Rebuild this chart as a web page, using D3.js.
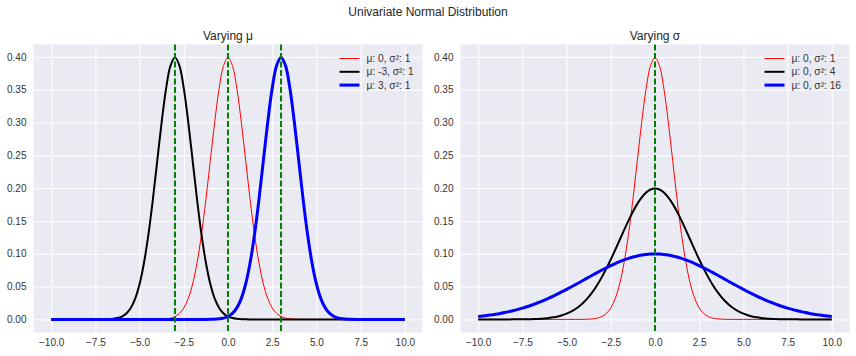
<!DOCTYPE html>
<html><head><meta charset="utf-8">
<script src="https://cdn.jsdelivr.net/npm/d3@7"></script>
<style>body{margin:0;background:#fff}svg{display:block;font-family:"Liberation Sans",Arial,sans-serif}</style>
</head><body><svg id="c" width="856" height="356"></svg>
<script>
const xs = [-10,-9.75,-9.5,-9.25,-9,-8.75,-8.5,-8.25,-8,-7.75,-7.5,-7.25,-7,-6.75,-6.5,-6.25,-6,-5.75,-5.5,-5.25,-5,-4.75,-4.5,-4.25,-4,-3.75,-3.5,-3.25,-3,-2.75,-2.5,-2.25,-2,-1.75,-1.5,-1.25,-1,-0.75,-0.5,-0.25,0,0.25,0.5,0.75,1,1.25,1.5,1.75,2,2.25,2.5,2.75,3,3.25,3.5,3.75,4,4.25,4.5,4.75,5,5.25,5.5,5.75,6,6.25,6.5,6.75,7,7.25,7.5,7.75,8,8.25,8.5,8.75,9,9.25,9.5,9.75,10];
const mu0var1 = [0,0,0,0,0,0,0,0,0,0,0,0,0,0,0,0,0,0,0,0,0,0,0,0,0.0001,0.0004,0.0009,0.0020,0.0044,0.0091,0.0175,0.0317,0.0540,0.0863,0.1295,0.1826,0.2420,0.3011,0.3521,0.3867,0.3989,0.3867,0.3521,0.3011,0.2420,0.1826,0.1295,0.0863,0.0540,0.0317,0.0175,0.0091,0.0044,0.0020,0.0009,0.0004,0.0001,0,0,0,0,0,0,0,0,0,0,0,0,0,0,0,0,0,0,0,0,0,0,0,0];
const muM3var1 = [0,0,0,0,0,0,0,0,0,0,0,0,0.0001,0.0004,0.0009,0.0020,0.0044,0.0091,0.0175,0.0317,0.0540,0.0863,0.1295,0.1826,0.2420,0.3011,0.3521,0.3867,0.3989,0.3867,0.3521,0.3011,0.2420,0.1826,0.1295,0.0863,0.0540,0.0317,0.0175,0.0091,0.0044,0.0020,0.0009,0.0004,0.0001,0,0,0,0,0,0,0,0,0,0,0,0,0,0,0,0,0,0,0,0,0,0,0,0,0,0,0,0,0,0,0,0,0,0,0,0];
const muP3var1 = [0,0,0,0,0,0,0,0,0,0,0,0,0,0,0,0,0,0,0,0,0,0,0,0,0,0,0,0,0,0,0,0,0,0,0,0,0.0001,0.0004,0.0009,0.0020,0.0044,0.0091,0.0175,0.0317,0.0540,0.0863,0.1295,0.1826,0.2420,0.3011,0.3521,0.3867,0.3989,0.3867,0.3521,0.3011,0.2420,0.1826,0.1295,0.0863,0.0540,0.0317,0.0175,0.0091,0.0044,0.0020,0.0009,0.0004,0.0001,0,0,0,0,0,0,0,0,0,0,0,0];
const mu0var4 = [0,0,0,0,0,0,0,0,0.0001,0.0001,0.0002,0.0003,0.0004,0.0007,0.0010,0.0015,0.0022,0.0032,0.0045,0.0064,0.0088,0.0119,0.0159,0.0209,0.0270,0.0344,0.0431,0.0533,0.0648,0.0775,0.0913,0.1059,0.1210,0.1360,0.1506,0.1641,0.1760,0.1859,0.1933,0.1979,0.1995,0.1979,0.1933,0.1859,0.1760,0.1641,0.1506,0.1360,0.1210,0.1059,0.0913,0.0775,0.0648,0.0533,0.0431,0.0344,0.0270,0.0209,0.0159,0.0119,0.0088,0.0064,0.0045,0.0032,0.0022,0.0015,0.0010,0.0007,0.0004,0.0003,0.0002,0.0001,0.0001,0,0,0,0,0,0,0,0];
const mu0var16 = [0.0044,0.0051,0.0059,0.0069,0.0079,0.0091,0.0104,0.0119,0.0135,0.0153,0.0172,0.0193,0.0216,0.0240,0.0266,0.0294,0.0324,0.0355,0.0388,0.0422,0.0457,0.0493,0.0530,0.0567,0.0605,0.0643,0.0680,0.0717,0.0753,0.0787,0.0820,0.0851,0.0880,0.0906,0.0930,0.0950,0.0967,0.0980,0.0990,0.0995,0.0997,0.0995,0.0990,0.0980,0.0967,0.0950,0.0930,0.0906,0.0880,0.0851,0.0820,0.0787,0.0753,0.0717,0.0680,0.0643,0.0605,0.0567,0.0530,0.0493,0.0457,0.0422,0.0388,0.0355,0.0324,0.0294,0.0266,0.0240,0.0216,0.0193,0.0172,0.0153,0.0135,0.0119,0.0104,0.0091,0.0079,0.0069,0.0059,0.0051,0.0044];
const xTicks = [-10,-7.5,-5,-2.5,0,2.5,5,7.5,10];
const yTicks = [0,0.05,0.1,0.15,0.2,0.25,0.3,0.35,0.4];
const leftLabels = ["μ: 0, σ²: 1","μ: -3, σ²: 1","μ: 3, σ²: 1"];
const rightLabels = ["μ: 0, σ²: 1","μ: 0, σ²: 4","μ: 0, σ²: 16"];
const leftMeans = [-3,0,3];
const rightMeans = [0];
const seriesColors = ["red","black","blue"];
const seriesWidths = [1,2,3];

const svg = d3.select("#c");
svg.append("text").attr("x",428).attr("y",16).attr("text-anchor","middle")
  .attr("font-size",12).attr("fill","#262626").text("Univariate Normal Distribution");

function panel(x0, x1, title, series, labels, means, legX) {
  const top = 44.5, bottom = 332.5;
  const x = d3.scaleLinear().domain([-11,11]).range([x0,x1]);
  const y = d3.scaleLinear().domain([-0.01995,0.41885]).range([bottom,top]);
  const g = svg.append("g");
  g.append("rect").attr("x",x0).attr("y",top).attr("width",x1-x0).attr("height",bottom-top).attr("fill","#EAEAF2");
  const gx = g.append("g").attr("transform",`translate(0,${bottom})`)
    .call(d3.axisBottom(x).tickValues(xTicks).tickFormat(d3.format(".1f")).tickSize(0).tickPadding(6));
  gx.select(".domain").remove();
  gx.selectAll(".tick line").attr("y1",0).attr("y2",-(bottom-top)).attr("stroke","#fff").attr("stroke-width",1);
  gx.selectAll("text").attr("font-size",10).attr("fill","#333").attr("font-family","Liberation Sans, Arial, sans-serif");
  const gy = g.append("g").attr("transform",`translate(${x0},0)`)
    .call(d3.axisLeft(y).tickValues(yTicks).tickFormat(d3.format(".2f")).tickSize(0).tickPadding(7));
  gy.select(".domain").remove();
  gy.selectAll(".tick line").attr("x1",0).attr("x2",x1-x0).attr("stroke","#fff").attr("stroke-width",1);
  gy.selectAll("text").attr("font-size",10).attr("fill","#333").attr("font-family","Liberation Sans, Arial, sans-serif");
  g.append("text").attr("x",(x0+x1)/2).attr("y",top-5).attr("text-anchor","middle")
    .attr("font-size",12).attr("fill","#262626").text(title);
  const line = d3.line().x((d,i)=>x(xs[i])).y(d=>y(d)).curve(d3.curveCatmullRom);
  const clip = "clip"+Math.round(x0);
  g.append("clipPath").attr("id",clip).append("rect").attr("x",x0).attr("y",top).attr("width",x1-x0).attr("height",bottom-top);
  series.forEach((s,k)=>{
    g.append("path").datum(s).attr("d",line).attr("fill","none")
      .attr("stroke",seriesColors[k]).attr("stroke-width",seriesWidths[k]).attr("clip-path",`url(#${clip})`);
  });
  means.forEach(m=>{
    g.append("line").attr("x1",x(m)).attr("x2",x(m)).attr("y1",top).attr("y2",bottom)
      .attr("stroke","green").attr("stroke-width",2).attr("stroke-dasharray","6,2.5");
  });
  const lg = g.append("g");
  labels.forEach((t,k)=>{
    const yy = 58.5 + k*13.3;
    lg.append("line").attr("x1",legX).attr("x2",legX+20).attr("y1",yy).attr("y2",yy)
      .attr("stroke",seriesColors[k]).attr("stroke-width",seriesWidths[k]);
    lg.append("text").attr("x",legX+27).attr("y",yy+3.5).attr("font-size",10.2).attr("fill","#333").text(t);
  });
}
panel(33.5, 422.5, "Varying μ", [mu0var1, muM3var1, muP3var1], leftLabels, leftMeans, 339.5);
panel(460.5, 849.5, "Varying σ", [mu0var1, mu0var4, mu0var16], rightLabels, rightMeans, 764.5);
</script></body></html>
